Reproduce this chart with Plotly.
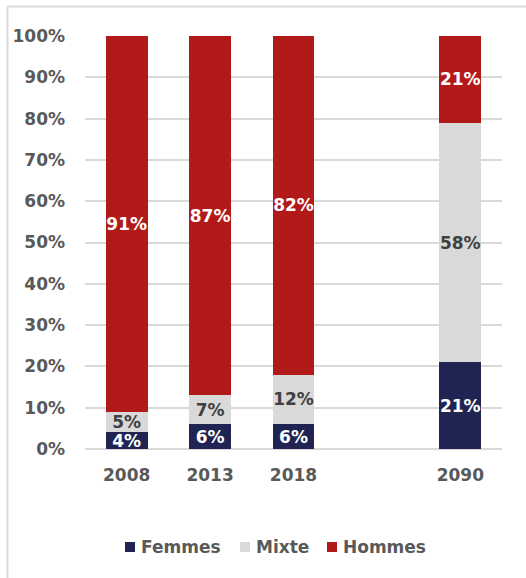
import plotly.graph_objects as go

# Share of each group per year (percent)
years = ["2008", "2013", "2018", "2090"]
femmes = [4, 6, 6, 21]
mixte = [5, 7, 12, 58]
hommes = [91, 87, 82, 21]

# Axis order, with an empty slot before the projection year
axis_order = ["2008", "2013", "2018", " ", "2090"]
y_ticks = list(range(0, 101, 10))

FONT = "DejaVu Sans"
GREY = "#595959"

series = [
    ("Femmes", femmes, "#1f2452", "white"),
    ("Mixte", mixte, "#d9d9d9", "#404040"),
    ("Hommes", hommes, "#b21a1a", "white"),
]

# Plot-area geometry (pixels) used to place the frame and legend
W, H = 526, 578
L, R, T, B = 85, 24, 36, 129
PW, PH = W - L - R, H - T - B


def px_x(px):
    return (px - L) / PW


def px_y(py):
    return (H - B - py) / PH


fig = go.Figure()
for name, vals, color, txtcolor in series:
    fig.add_trace(go.Bar(
        name=name,
        x=years,
        y=vals,
        marker=dict(color=color, line=dict(width=0)),
        width=0.5,
        text=[f"{v}%" for v in vals],
        textposition="inside",
        insidetextanchor="middle",
        textangle=0,
        textfont=dict(family=FONT, size=17, color=txtcolor, weight="bold"),
        hoverinfo="skip",
        showlegend=False,
    ))

# Legend drawn as small squares followed by the series names
legend_left = [125, 240, 327]
legend_cy = 547
shapes = [
    # Frame edges around the chart
    dict(type="line", xref="paper", yref="paper",
         x0=px_x(7.5), x1=px_x(W + 2), y0=px_y(6.5), y1=px_y(6.5),
         line=dict(color="#d9d9d9", width=2)),
    dict(type="line", xref="paper", yref="paper",
         x0=px_x(7.5), x1=px_x(7.5), y0=px_y(6.5), y1=px_y(H + 2),
         line=dict(color="#d9d9d9", width=2)),
]
annotations = []
for (name, _, color, _), lx in zip(series, legend_left):
    shapes.append(dict(
        type="rect", xref="paper", yref="paper",
        x0=px_x(lx), x1=px_x(lx + 10),
        y0=px_y(legend_cy + 5), y1=px_y(legend_cy - 5),
        fillcolor=color, line=dict(width=0),
    ))
    annotations.append(dict(
        xref="paper", yref="paper",
        x=px_x(lx + 14), y=px_y(legend_cy),
        xanchor="left", yanchor="middle",
        text=name, showarrow=False,
        font=dict(family=FONT, size=17, color=GREY, weight="bold"),
    ))

fig.update_layout(
    barmode="stack",
    width=W,
    height=H,
    margin=dict(l=L, r=R, t=T, b=B),
    paper_bgcolor="white",
    plot_bgcolor="white",
    uniformtext=dict(mode="show", minsize=17),
    font=dict(family=FONT, color=GREY, size=17, weight="bold"),
    showlegend=False,
    xaxis=dict(
        type="category",
        categoryorder="array",
        categoryarray=axis_order,
        showgrid=False,
        showline=False,
        ticks="",
        tickfont=dict(family=FONT, size=17, color=GREY, weight="bold"),
        ticklabelstandoff=14,
    ),
    yaxis=dict(
        range=[0, 100],
        tickvals=y_ticks,
        ticktext=[f"{v}%" for v in y_ticks],
        showgrid=True,
        gridcolor="#d9d9d9",
        gridwidth=2,
        zeroline=True,
        zerolinecolor="#d9d9d9",
        zerolinewidth=2,
        showline=False,
        ticks="",
        tickfont=dict(family=FONT, size=17, color=GREY, weight="bold"),
        ticklabelstandoff=19,
    ),
    shapes=shapes,
    annotations=annotations,
)

fig.write_html("out.html")
